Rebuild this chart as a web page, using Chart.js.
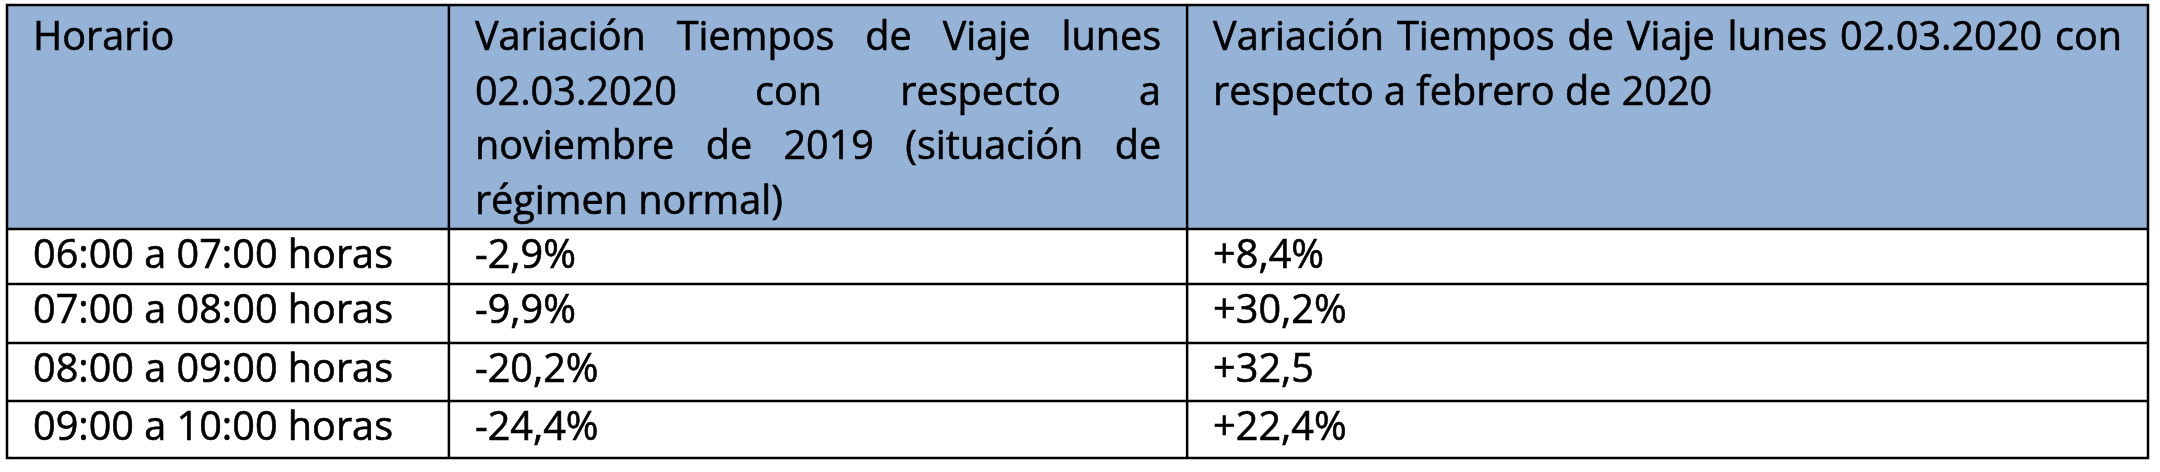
<!DOCTYPE html>
<html>
<head>
<meta charset="utf-8">
<script src="https://cdn.jsdelivr.net/npm/chart.js@4"></script>
<style>
    html, body { margin: 0; padding: 0; background: #fff; }
    #wrap { width: 2160px; height: 472px; }
</style>
</head>
<body>
<div id="wrap"><canvas id="tabla"></canvas></div>
<script>
// Datos de la tabla
const horarios = ['06:00 a 07:00 horas', '07:00 a 08:00 horas', '08:00 a 09:00 horas', '09:00 a 10:00 horas'];
const varNoviembre = ['-2,9%', '-9,9%', '-20,2%', '-24,4%'];
const varFebrero = ['+8,4%', '+30,2%', '+32,5', '+22,4%'];
const encabezado1 = ['Horario'];
const encabezado2 = ['Variación Tiempos de Viaje lunes', '02.03.2020 con respecto a', 'noviembre de 2019 (situación de', 'régimen normal)'];
const encabezado3 = ['Variación Tiempos de Viaje lunes 02.03.2020 con', 'respecto a febrero de 2020'];

// Bordes de columnas (eje x) y filas (eje y)
const bordesCol = [0, 0.2064, 0.5512, 1];
const bordesFila = [0, 3.913, 4.873, 5.904, 6.917, 7.913];

const FUENTE = '40px "Open Sans"';
const PAD = 26;

// Escribe una linea, justificada o no
function escribirLinea(ctx, texto, izq, der, base, justificar, sx) {
    ctx.save();
    ctx.translate(izq, base);
    ctx.scale(sx, 1);
    const ancho = (der - izq) / sx;
    const palabras = texto.split(' ');
    const trazo = (t, px) => { ctx.fillText(t, px, 0); ctx.strokeText(t, px, 0); };
    if (!justificar || palabras.length < 2) {
        trazo(texto, 0);
    } else {
        let suma = 0;
        palabras.forEach(p => { suma += ctx.measureText(p).width; });
        const hueco = (ancho - suma) / (palabras.length - 1);
        let pos = 0;
        palabras.forEach(p => {
            trazo(p, pos);
            pos += ctx.measureText(p).width + hueco;
        });
    }
    ctx.restore();
}

const tablaPlugin = {
    id: 'tabla',
    beforeDatasetsDraw(chart) {
        const ctx = chart.ctx;
        const x = chart.scales.x;
        const y = chart.scales.y;
        const cx = bordesCol.map(v => x.getPixelForValue(v));
        const fy = bordesFila.map(v => y.getPixelForValue(v));

        ctx.save();
        // fondo del encabezado
        ctx.fillStyle = '#95B3D7';
        ctx.fillRect(cx[0], fy[0], cx[3] - cx[0], fy[1] - fy[0]);

        ctx.font = FUENTE;
        ctx.fillStyle = '#000';
        ctx.strokeStyle = '#000';
        ctx.lineWidth = 0.6;
        ctx.textBaseline = 'alphabetic';
        const sx = 360 / ctx.measureText(horarios[0]).width;

        // encabezado
        const encabezados = [encabezado1, encabezado2, encabezado3];
        encabezados.forEach((lineas, c) => {
            lineas.forEach((t, i) => {
                const ultima = i === lineas.length - 1;
                escribirLinea(ctx, t, cx[c] + PAD, cx[c + 1] - PAD, fy[0] + 45 + i * 54.5, !ultima, sx);
            });
        });

        // filas de datos
        const columnas = [horarios, varNoviembre, varFebrero];
        for (let r = 0; r < horarios.length; r++) {
            columnas.forEach((col, c) => {
                escribirLinea(ctx, col[r], cx[c] + PAD, cx[c + 1] - PAD, fy[r + 1] + 39, false, sx);
            });
        }

        // bordes
        ctx.strokeStyle = '#000';
        ctx.lineWidth = 2.5;
        ctx.beginPath();
        fy.forEach(py => { ctx.moveTo(cx[0] - 1.25, py); ctx.lineTo(cx[3] + 1.25, py); });
        cx.forEach(px => { ctx.moveTo(px, fy[0]); ctx.lineTo(px, fy[fy.length - 1]); });
        ctx.stroke();
        ctx.restore();
    }
};

document.fonts.load(FUENTE).then(() => {
    new Chart(document.getElementById('tabla'), {
        type: 'scatter',
        data: { datasets: [] },
        options: {
            responsive: true,
            maintainAspectRatio: false,
            devicePixelRatio: 1,
            animation: false,
            layout: { padding: { left: 7, top: 5, right: 12, bottom: 14 } },
            plugins: { legend: { display: false }, tooltip: { enabled: false } },
            scales: {
                x: { type: 'linear', min: 0, max: 1, display: false },
                y: { type: 'linear', min: 0, max: bordesFila[bordesFila.length - 1], reverse: true, display: false }
            }
        },
        plugins: [tablaPlugin]
    });
});
</script>
</body>
</html>
